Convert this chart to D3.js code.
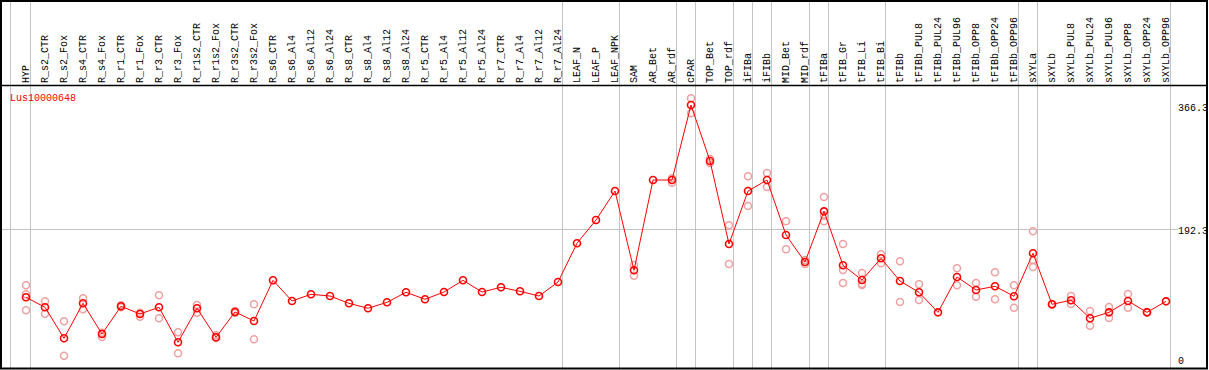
<!DOCTYPE html>
<html>
<head>
<meta charset="utf-8">
<script src="https://cdn.jsdelivr.net/npm/d3@7"></script>
<style>
  body { margin: 0; background: #fff; }
  text { font-family: "Liberation Mono", "DejaVu Sans Mono", monospace; font-size: 10px; }
</style>
</head>
<body>
<script>
const w = 1209;
const h = 370;

const categories = ["HYP", "R_s2_CTR", "R_s2_Fox", "R_s4_CTR", "R_s4_Fox", "R_r1_CTR", "R_r1_Fox",
  "R_r3_CTR", "R_r3_Fox", "R_r1s2_CTR", "R_r1s2_Fox", "R_r3s2_CTR", "R_r3s2_Fox", "R_s6_CTR",
  "R_s6_Al4", "R_s6_Al12", "R_s6_Al24", "R_s8_CTR", "R_s8_Al4", "R_s8_Al12", "R_s8_Al24",
  "R_r5_CTR", "R_r5_Al4", "R_r5_Al12", "R_r5_Al24", "R_r7_CTR", "R_r7_Al4", "R_r7_Al12",
  "R_r7_Al24", "LEAF_N", "LEAF_P", "LEAF_NPK", "SAM", "AR_Bet", "AR_rdf", "cPAR", "TOP_Bet",
  "TOP_rdf", "iFIBa", "iFIBb", "MID_Bet", "MID_rdf", "tFIBa", "tFIB_Gr", "tFIB_Li", "tFIB_Bi",
  "tFIBb", "tFIBb_PUL8", "tFIBb_PUL24", "tFIBb_PUL96", "tFIBb_OPP8", "tFIBb_OPP24", "tFIBb_OPP96",
  "sXYLa", "sXYLb", "sXYLb_PUL8", "sXYLb_PUL24", "sXYLb_PUL96", "sXYLb_OPP8", "sXYLb_OPP24",
  "sXYLb_OPP96"];

const means = [95.4, 81.3, 37.6, 86.9, 43.7, 82.7, 71.9, 81.3, 32.0, 79.9, 39.0, 74.7, 62.0, 119.3,
  90.2, 99.6, 97.2, 86.9, 79.9, 88.3, 102.4, 92.6, 102.8, 119.3, 102.8, 109.5, 103.8, 97.2,
  116.9, 171.5, 204.3, 245.1, 133.4, 260.6, 260.6, 366.3, 287.4, 170.5, 245.1, 260.6, 183.2,
  145.1, 216.5, 140.5, 119.8, 150.3, 118.3, 102.4, 74.2, 124.0, 105.7, 110.9, 96.8, 157.4,
  85.5, 91.2, 65.8, 74.2, 90.2, 74.2, 89.7];

// replicate values per category (same order as categories)
const replicates = [
  [112.3, 99.6, 77.1], [89.7, 72.3], [61.6, 13.1], [94.0, 78.5], [45.5, 39.4], [84.1, 81.3],
  [73.7, 68.0], [98.2, 65.8], [46.1, 16.5], [84.5, 73.7], [41.8, 38.0], [76.1, 73.3], [85.5, 36.2],
  [], [], [], [], [], [], [], [], [], [], [], [], [], [], [], [],
  [], [], [], [140.9, 125.8], [], [263.0, 256.8], [375.7, 354.6], [290.2, 284.6], [196.8, 142.3],
  [265.8, 224.0], [270.5, 250.8], [202.5, 163.0], [147.9, 142.3], [236.7, 210.2, 202.5],
  [170.5, 133.8, 115.5], [129.6, 114.1, 112.7], [156.0, 143.3], [146.1, 88.8], [113.7, 91.6], [],
  [136.2, 112.3], [115.5, 96.2], [130.6, 92.6], [112.3, 80.7], [188.4, 147.9, 138.1], [86.0, 85.0],
  [97.2, 85.9], [76.1, 55.4], [81.7, 66.2], [100.0, 80.7], [74.5, 74.0], []];

// first category of each group (gray separators)
const groupStarts = ["R_s2_CTR", "LEAF_N", "SAM", "cPAR", "TOP_Bet", "iFIBa", "iFIBb",
  "MID_Bet", "tFIBa", "tFIB_Gr", "tFIBb", "sXYLa", "sXYLb"];

const yTicks = [0, 192.3, 366.3];
const gene = "Lus10000648";

const svg = d3.select("body").append("svg").attr("width", w).attr("height", h);

const x = d3.scalePoint().domain(categories).range([26, 1166]);
const y = d3.scaleLinear().domain([0, 366.3]).range([365, 105]);

// separators
const sepX = [x(categories[0]) - 15.5]
  .concat(groupStarts.map(c => x(c) - 14.5))
  .concat([x(categories[categories.length - 1]) + 4.5]);

svg.selectAll("line.sep").data(sepX).enter().append("line")
  .attr("class", "sep")
  .attr("x1", d => d).attr("x2", d => d)
  .attr("y1", 0).attr("y2", h)
  .attr("stroke", "#c4c4c4").attr("stroke-width", 1);

// horizontal gridline
svg.append("line")
  .attr("x1", 0).attr("x2", 1178)
  .attr("y1", Math.round(y(192.3)) + 0.5).attr("y2", Math.round(y(192.3)) + 0.5)
  .attr("stroke", "#c4c4c4").attr("stroke-width", 1);

// header labels
svg.selectAll("text.cat").data(categories).enter().append("text")
  .attr("class", "cat")
  .attr("transform", d => `translate(${x(d) + 3},83) rotate(-90)`)
  .attr("fill", "#000")
  .text(d => d);

// tick labels
svg.selectAll("text.tick").data(yTicks).enter().append("text")
  .attr("class", "tick")
  .attr("x", 1178)
  .attr("y", d => Math.min(y(d) + 5.5, 364))
  .attr("fill", "#000")
  .text(d => d);

svg.append("text").attr("x", 10).attr("y", 101).attr("fill", "#ff0000").text(gene);

// replicates
const repPts = [];
replicates.forEach((r, i) => r.forEach(v => repPts.push([categories[i], v])));

svg.selectAll("circle.rep").data(repPts).enter().append("circle")
  .attr("class", "rep")
  .attr("cx", d => x(d[0]))
  .attr("cy", d => y(d[1]))
  .attr("r", 3.5)
  .attr("fill", "none")
  .attr("stroke", "#f0a0a0")
  .attr("stroke-width", 1.5);

// mean line
const line = d3.line().x((d, i) => x(categories[i])).y(d => y(d));
svg.append("path").datum(means)
  .attr("d", line)
  .attr("fill", "none")
  .attr("stroke", "#ff0000")
  .attr("stroke-width", 1);

svg.selectAll("circle.mean").data(means).enter().append("circle")
  .attr("class", "mean")
  .attr("cx", (d, i) => x(categories[i]))
  .attr("cy", d => y(d))
  .attr("r", 3.5)
  .attr("fill", "none")
  .attr("stroke", "#ff0000")
  .attr("stroke-width", 1.6);

// frame
svg.append("line").attr("x1", 0).attr("x2", 1207).attr("y1", 85.5).attr("y2", 85.5)
  .attr("stroke", "#000").attr("stroke-width", 1.5);
svg.append("rect")
  .attr("x", 1).attr("y", 1).attr("width", 1206).attr("height", 367.5)
  .attr("fill", "none").attr("stroke", "#000").attr("stroke-width", 2);
</script>
</body>
</html>
